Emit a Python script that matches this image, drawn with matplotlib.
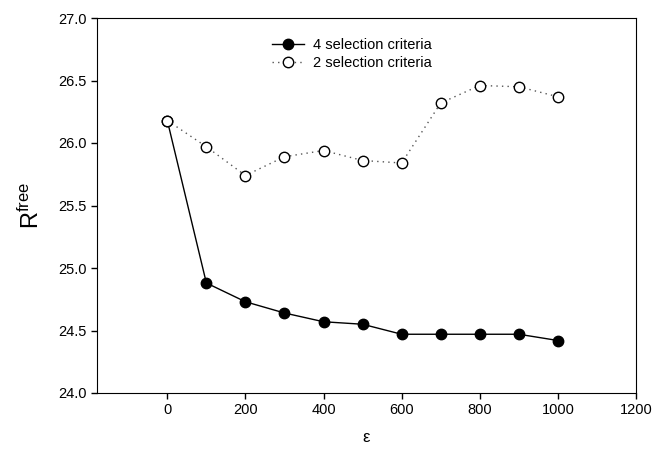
import numpy as np
import matplotlib.pyplot as plt

plt.rcParams['font.family'] = ['Liberation Sans', 'DejaVu Sans']
plt.rcParams['mathtext.default'] = 'regular'

# epsilon values
eps = [0, 100, 200, 300, 400, 500, 600, 700, 800, 900, 1000]

# R free for the two selection schemes
r_four = [26.18, 24.88, 24.73, 24.64, 24.57, 24.55, 24.47, 24.47, 24.47, 24.47, 24.42]
r_two = [26.18, 25.97, 25.74, 25.89, 25.94, 25.86, 25.84, 26.32, 26.46, 26.45, 26.37]

fig = plt.figure(figsize=(6.65, 4.57), dpi=100)
ax = fig.add_axes([97/665, 1 - 393/457, (636-97)/665, (393-18)/457])

ax.plot(eps, r_four, color='black', lw=1, marker='o', ms=7.5,
        mfc='black', mec='black', label='4 selection criteria', zorder=2)
ax.plot(eps, r_two, color='#555555', lw=1, ls=(0, (1, 3)), marker='o', ms=7.5,
        mfc='white', mec='black', mew=1, label='2 selection criteria', zorder=3)

ax.set_xlim(-180, 1200)
ax.set_ylim(24.0, 27.0)
ax.set_xticks(np.arange(0, 1201, 200))
ax.set_yticks(np.arange(24.0, 27.01, 0.5))
ax.yaxis.set_major_formatter(plt.FormatStrFormatter('%.1f'))
ax.tick_params(direction='out', labelsize=10.5, length=4, width=1)

ax.set_xlabel('ε', fontsize=12, labelpad=9)
ax.set_ylabel('$R^{free}$', fontsize=17, labelpad=10)

ax.legend(loc='upper left', bbox_to_anchor=(272/665, 1 - 38/457),
          bbox_transform=fig.transFigure, frameon=False, fontsize=10.5,
          borderpad=0, borderaxespad=0, handlelength=2.2,
          handletextpad=0.6, labelspacing=0.3)

fig.savefig('out.png', dpi=100)
